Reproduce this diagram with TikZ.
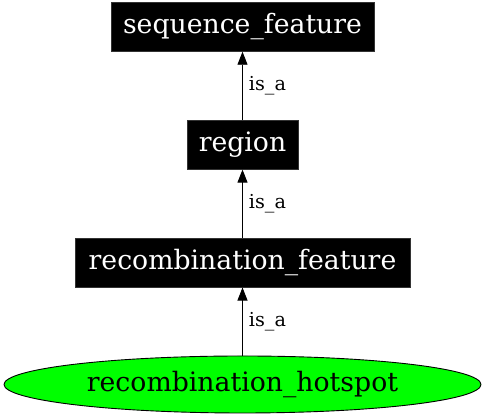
\documentclass[tikz,border=0pt]{standalone}
\usepackage{fontspec}
\setmainfont{DejaVu Serif}
\usepackage{tikz}
\usetikzlibrary{positioning, arrows.meta, shapes.geometric}
\definecolor{hotgreen}{RGB}{0,255,0}
\tikzset{
->, % edges point to the parent term
>={Triangle[length=13pt,width=10pt]}, % filled heads like the original
node distance=68pt, % gap between two terms, border to border
term/.style={draw=black!80, fill=black, text=white, inner sep=0pt, minimum height=49pt, font=\fontsize{26.7}{30}\selectfont}, % the parent terms
leaf/.style={ellipse, draw=black, fill=hotgreen, inner sep=0pt, minimum width=477pt, minimum height=57pt, font=\fontsize{26.7}{30}\selectfont}, % the term itself
rel/.style={midway, anchor=west, xshift=6pt, inner sep=0pt, font=\fontsize{19.2}{22}\selectfont}, % the edge labels
}
\begin{document}
\begin{tikzpicture}[x=1pt, y=1pt, line width=0.9pt]
\useasboundingbox (0,0) rectangle (485,419);
\node[leaf] (hotspot) at (242.5,34.5) {recombination\_hotspot};
\node[term, minimum width=335pt, above=of hotspot] (recfeat) {recombination\_feature};
\node[term, minimum width=111pt, above=of recfeat] (region) {region};
\node[term, minimum width=263pt, above=of region] (seqfeat) {sequence\_feature};
\draw (hotspot) -- node[rel] {is\_a} (recfeat);
\draw (recfeat) -- node[rel] {is\_a} (region);
\draw (region) -- node[rel] {is\_a} (seqfeat);
\end{tikzpicture}
\end{document}
